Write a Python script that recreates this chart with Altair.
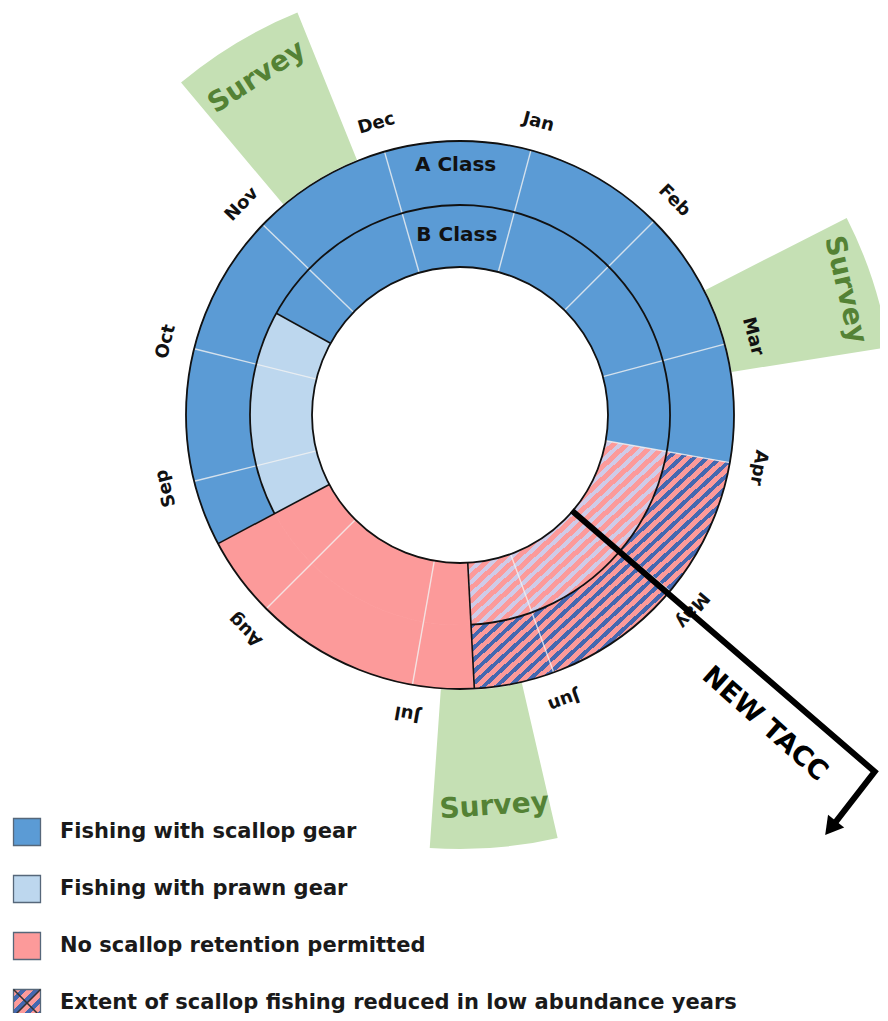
import altair as alt
import numpy as np
import pandas as pd

# ---------------- data ----------------
months = ["Jan", "Feb", "Mar", "Apr", "May", "Jun", "Jul", "Aug", "Sep", "Oct", "Nov", "Dec"]
month_deg = [15, 45, 75, 100, 130, 160, 190, 225, 256, 284, 314, 344]

seg_ring = ["A", "A", "A", "B", "B", "B", "B"]
seg_cat = ["scallop", "reduced", "none", "scallop", "reduced", "none", "prawn"]
seg_start = [-118, 100, 177, -61, 100, 177, 242]
seg_end = [100, 177, 242, 100, 177, 242, 299]

boundary_deg = [177, 242, 299]
boundary_ring = ["AB", "AB", "B"]

survey_start = [320, 63, 167]
survey_end = [338, 81, 184]
survey_label_deg = [329, 72, 175]
survey_label = ["Survey", "Survey", "Survey"]

ring_labels = ["A Class", "B Class"]
ring_keys = ["A", "B"]

legend_labels = [
    "Fishing with scallop gear",
    "Fishing with prawn gear",
    "No scallop retention permitted",
    "Extent of scallop fishing reduced in low abundance years",
]
legend_keys = ["scallop", "prawn", "none", "reduced"]

tacc_label = ["NEW TACC"]
arrow_deg = [130.5, 130.7, 137.4]
arrow_r = [147, 547, 554]
arrowhead_deg = [138.1]
arrowhead_r = [555]

# ---------------- layout / style ----------------
W, H = 872, 1005
R_IN, R_MID, R_OUT, R_SURV = 148, 210, 274, 434
BLUE, LBLUE, PINK = "#5b9bd5", "#bdd7ee", "#fc9a9a"
DBLUE, LAV = "#4468b0", "#cfcbe8"
GREEN, DGREEN = "#c5e0b4", "#548235"
FONT = "DejaVu Sans"

xs = alt.Scale(domain=[-452, 420], nice=False, zero=False)
ys = alt.Scale(domain=[-407, 598], reverse=True, nice=False, zero=False)
ts = alt.Scale(domain=[0, 360], range=[0, 2 * np.pi], nice=False, zero=False)
rs = alt.Scale(type="linear", domain=[0, 600], range=[0, 600], nice=False, zero=True)

XY0 = dict(x=alt.X("cx:Q", scale=xs, axis=None), y=alt.Y("cy:Q", scale=ys, axis=None))
ARC = dict(theta=alt.Theta("t1:Q", scale=ts, stack=False), theta2=alt.Theta2("t2:Q"),
           radius=alt.Radius("r1:Q", scale=rs), radius2=alt.Radius2("r2:Q"), **XY0)
TXT = dict(theta=alt.Theta("deg:Q", scale=ts, stack=False), radius=alt.Radius("r:Q", scale=rs),
           angle=alt.Angle("ang:Q", scale=None), text=alt.Text("label:N"), **XY0)
RULE = dict(x=alt.X("x:Q", scale=xs, axis=None), y=alt.Y("y:Q", scale=ys, axis=None),
            x2=alt.X2("x2:Q"), y2=alt.Y2("y2:Q"))


def stripes(c1, c2, n):
    stops = []
    for i in range(n):
        a, b, c = i / n, (i + 0.55) / n, (i + 1) / n
        stops += [alt.GradientStop(color=c1, offset=a), alt.GradientStop(color=c1, offset=b),
                  alt.GradientStop(color=c2, offset=b), alt.GradientStop(color=c2, offset=min(c, 1.0))]
    return alt.LinearGradient(gradient="linear", stops=stops, x1=0, y1=0, x2=1, y2=1)


def polar(chart):
    return chart.transform_calculate(cx="0", cy="0")


def radial_calc(chart):
    return chart.transform_calculate(
        x="datum.r1*sin(datum.deg*PI/180)", y="-datum.r1*cos(datum.deg*PI/180)",
        x2="datum.r2*sin(datum.deg*PI/180)", y2="-datum.r2*cos(datum.deg*PI/180)")


# ---------------- frames ----------------
seg_df = pd.DataFrame({"ring": seg_ring, "cat": seg_cat, "t1": seg_start, "t2": seg_end})
seg_df["r1"] = seg_df["ring"].map({"A": R_OUT, "B": R_MID})
seg_df["r2"] = seg_df["ring"].map({"A": R_MID, "B": R_IN})

surv_df = pd.DataFrame({"t1": survey_start, "t2": survey_end})
surv_df["r1"] = R_SURV
surv_df["r2"] = R_OUT + 1

surv_txt = pd.DataFrame({"deg": survey_label_deg, "label": survey_label})
surv_txt["r"] = [394, 405, 393]
surv_txt["ang"] = [327, 77, 356]

mon_line = pd.DataFrame({"deg": month_deg})
mon_line["r1"] = R_IN
mon_line["r2"] = R_OUT

mon_txt = pd.DataFrame({"deg": month_deg, "label": months})
mon_txt["r"] = 303
mon_txt["ang"] = mon_txt["deg"] % 360

bnd_df = pd.DataFrame({"deg": boundary_deg, "ring": boundary_ring})
bnd_df["r1"] = R_IN
bnd_df["r2"] = bnd_df["ring"].map({"AB": R_OUT, "B": R_MID})

circ_df = pd.DataFrame({"t1": [0, 0, -118], "t2": [360, 360, 177]})
circ_df["r1"] = [R_OUT, R_IN, R_MID]
circ_df["r2"] = circ_df["r1"]

ring_txt = pd.DataFrame({"label": ring_labels, "key": ring_keys})
ring_txt["deg"] = -1
ring_txt["r"] = ring_txt["key"].map({"A": 250, "B": 180})
ring_txt["ang"] = 0

tacc_df = pd.DataFrame({"label": tacc_label, "deg": [135.4], "r": [434], "ang": [41.6]})

arrow_df = pd.DataFrame({"seq": range(len(arrow_deg)), "deg": arrow_deg, "r1": arrow_r})
head_df = pd.DataFrame({"deg": arrowhead_deg, "r1": arrowhead_r})

leg_df = pd.DataFrame({"label": legend_labels, "key": legend_keys})
leg_df["i"] = range(len(legend_labels))

# ---------------- layers ----------------
cat_scale = alt.Scale(domain=["scallop", "prawn", "none"], range=[BLUE, LBLUE, PINK])

survey = polar(alt.Chart(surv_df)).mark_arc(fill=GREEN, strokeWidth=0).encode(**ARC)
survey_text = polar(alt.Chart(surv_txt)).mark_text(
    font=FONT, fontSize=28, fontWeight="bold", color=DGREEN, align="center", baseline="middle"
).encode(**TXT)

solid = polar(alt.Chart(seg_df)).transform_filter("datum.cat != 'reduced'").mark_arc(strokeWidth=0.8).encode(
    color=alt.Color("cat:N", scale=cat_scale, legend=None),
    stroke=alt.Stroke("cat:N", scale=cat_scale, legend=None),
    **ARC)
hatchA = polar(alt.Chart(seg_df)).transform_filter("datum.cat == 'reduced' && datum.ring == 'A'").mark_arc(
    fill=stripes(PINK, DBLUE, 40), strokeWidth=0).encode(**ARC)
hatchB = polar(alt.Chart(seg_df)).transform_filter("datum.cat == 'reduced' && datum.ring == 'B'").mark_arc(
    fill=stripes(PINK, LAV, 30), strokeWidth=0).encode(**ARC)

mlines = radial_calc(alt.Chart(mon_line)).mark_rule(color="#f2f2f2", strokeWidth=1.4, opacity=0.8).encode(**RULE)
blines = radial_calc(alt.Chart(bnd_df)).mark_rule(color="#111111", strokeWidth=1.6).encode(**RULE)
circles = polar(alt.Chart(circ_df)).mark_arc(fillOpacity=0, stroke="#111111", strokeWidth=1.8).encode(**ARC)

mon_text = polar(alt.Chart(mon_txt)).mark_text(
    font=FONT, fontSize=18, fontWeight="bold", color="#111111", align="center", baseline="middle"
).encode(**TXT)
ring_text = polar(alt.Chart(ring_txt)).mark_text(
    font=FONT, fontSize=20, fontWeight="bold", color="#111111", align="center", baseline="middle"
).encode(**TXT)
tacc_text = polar(alt.Chart(tacc_df)).mark_text(
    font=FONT, fontSize=27, fontWeight="bold", color="#000000", align="center", baseline="middle"
).encode(**TXT)

arrow = alt.Chart(arrow_df).transform_calculate(
    x="datum.r1*sin(datum.deg*PI/180)", y="-datum.r1*cos(datum.deg*PI/180)"
).mark_line(color="black", strokeWidth=6, strokeJoin="miter", strokeCap="butt").encode(
    x=alt.X("x:Q", scale=xs, axis=None), y=alt.Y("y:Q", scale=ys, axis=None), order="seq:O")
head = alt.Chart(head_df).transform_calculate(
    x="datum.r1*sin(datum.deg*PI/180)", y="-datum.r1*cos(datum.deg*PI/180)"
).mark_point(shape="triangle-up", size=420, filled=True, color="black", opacity=1, angle=218).encode(
    x=alt.X("x:Q", scale=xs, axis=None), y=alt.Y("y:Q", scale=ys, axis=None))

LEG = alt.Chart(leg_df).transform_calculate(lx="-433", tx="-400", ly="417 + 57*datum.i")
LXY = dict(x=alt.X("lx:Q", scale=xs, axis=None), y=alt.Y("ly:Q", scale=ys, axis=None))
leg_sq = LEG.transform_filter("datum.key != 'reduced'").mark_point(
    shape="square", size=729, filled=True, opacity=1, stroke="#56677a", strokeWidth=1.3).encode(
    fill=alt.Fill("key:N", scale=cat_scale, legend=None),
    **LXY)
leg_hatch = LEG.transform_filter("datum.key == 'reduced'").mark_point(
    shape="square", size=729, filled=True, opacity=1, fill=stripes(PINK, DBLUE, 4),
    stroke="#56677a", strokeWidth=1.3).encode(**LXY)
leg_x = LEG.transform_filter("datum.key == 'reduced'").mark_point(
    shape="M-1,-1L1,1M1,-1L-1,1", size=729, filled=False, opacity=1, stroke="#333333", strokeWidth=1.5
).encode(**LXY)
leg_text = LEG.mark_text(font=FONT, fontSize=21, fontWeight="bold", color="#1a1a1a", align="left",
                         baseline="middle").encode(
    x=alt.X("tx:Q", scale=xs, axis=None), y=alt.Y("ly:Q", scale=ys, axis=None), text="label:N")

chart = alt.layer(
    survey, solid, hatchA, hatchB, mlines, blines, circles, survey_text, mon_text, ring_text,
    arrow, head, tacc_text, leg_sq, leg_hatch, leg_x, leg_text
).properties(
    width=W, height=H, padding=0, autosize=alt.AutoSizeParams(type="none")
).configure_view(stroke=None)

chart.save("out.html", embed_options={"renderer": "svg", "actions": False})
